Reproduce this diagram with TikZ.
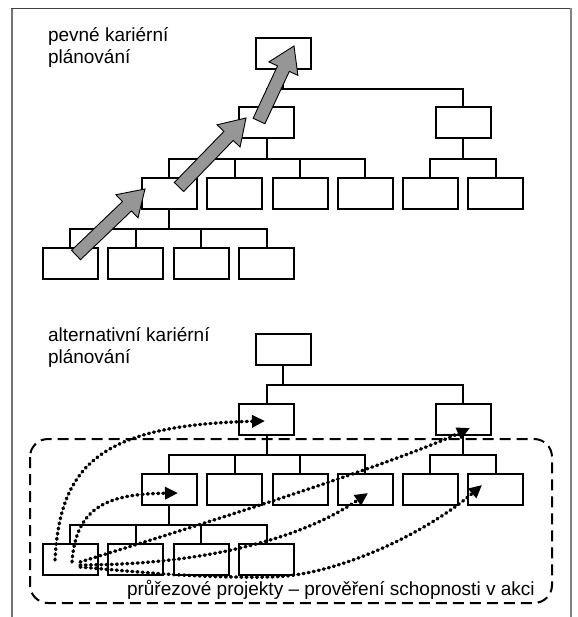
\documentclass[tikz,border=0pt]{standalone}
\usepackage{fontspec}
\setmainfont{Liberation Sans}
\usetikzlibrary{calc, arrows.meta}
\definecolor{arrowgray}{RGB}{150,150,150}

\begin{document}
\begin{tikzpicture}[x=1pt, y=-1pt, line width=2pt,
        box/.style={draw, minimum width=55pt, minimum height=31pt, inner sep=0pt},
        title/.style={anchor=base west, align=left, inner sep=0pt, font=\fontsize{19}{21.6}\selectfont},
        fatarrow/.style={draw=black, line width=0.9pt, fill=arrowgray},
        dots/.style={line width=3.4pt, line cap=round, dash pattern=on 1pt off 4.2pt, -{Triangle[length=13pt, width=12pt]}}]
    \useasboundingbox (0,0) rectangle (577,617);
    % frame
    \draw[line width=1.5pt, black!55] (12,617) -- (12,8.5);
    \draw[line width=1.5pt, black!75] (11.25,8.5) -- (571.75,8.5);
    \draw[line width=2pt, black!50] (571,8.5) -- (571,617);
    % cross-section projects
    \draw[dash pattern=on 11pt off 6pt, rounded corners=18pt] (30,439) rectangle (552,603);

    % the two trees
    \foreach \tr/\dy in {p/0, a/296} {
        \begin{scope}[yshift=-\dy pt]
            \node[box] (\tr0) at (283,53.5) {};
            \node[box] (\tr1a) at (266.5,123) {};
            \node[box] (\tr1b) at (463,123) {};
            \foreach \n/\x in {a/169, b/234.5, c/300, d/365, e/430, f/495.5}
                \node[box] (\tr2\n) at (\x,193.5) {};
            \foreach \n/\x in {a/70, b/135.5, c/201, d/266.5}
                \node[box] (\tr3\n) at (\x,263.5) {};
            \foreach \c in {1a,1b}
                \draw (\tr0.south) -- ++(0,19) -| (\tr\c.north);
            \foreach \c in {a,b,c,d}
                \draw (\tr1a.south) -- ++(0,19.5) -| (\tr2\c.north);
            \foreach \c in {e,f}
                \draw (\tr1b.south) -- ++(0,19.5) -| (\tr2\c.north);
            \foreach \c in {a,b,c,d}
                \draw (\tr2a.south) -- ++(0,19) -| (\tr3\c.north);
        \end{scope}
    }

    % fixed career path
    \coordinate (s1) at (76,255);
    \coordinate (e1) at (145,189);
    \coordinate (s2) at (179,187);
    \coordinate (e2) at (246,118);
    \coordinate (s3) at (259,121);
    \coordinate (e3) at (294,46);
    \foreach \i in {1,2,3} {
        \coordinate (m\i) at ($(e\i)!25pt!(s\i)$);
        \filldraw[fatarrow] ($(s\i)!6.5pt!90:(e\i)$) -- ($(m\i)!6.5pt!90:(e\i)$) -- ($(m\i)!16pt!90:(e\i)$) -- (e\i)
            -- ($(m\i)!16pt!-90:(e\i)$) -- ($(m\i)!6.5pt!-90:(e\i)$) -- ($(s\i)!6.5pt!-90:(e\i)$) -- cycle;
    }

    % alternative moves
    \draw[dots] ($(a3a)+(-15,0.5)$) .. controls (60,465) and (100,425) .. ($(a1a)+(-1.5,2)$);
    \draw[dots] ($(a3a)+(2,2.5)$) .. controls (76,505) and (110,494) .. ($(a2a)+(9,3.5)$);
    \draw[dots] ($(a3a)+(10,2.5)$) .. controls (200,525) and (390,465) .. ($(a1b)+(7,9)$);
    \draw[dots] ($(a3a)+(10,5.5)$) .. controls (200,565) and (300,540) .. ($(a2d)+(3,3.5)$);
    \draw[dots] ($(a3a)+(10,7.5)$) .. controls (150,573) and (200,578) .. (270,577)
        .. controls (340,576) and (430,530) .. ($(a2f)+(-13.5,-4.5)$);

    \node[title] (ptitle) at (47,63.5) {pevné kariérní\\plánování};
    \node[title] (atitle) at (47,363.5) {alternativní kariérní\\plánování};
    \node[title] (xlabel) at (126,595) {průřezové projekty – prověření schopnosti v akci};
\end{tikzpicture}
\end{document}
